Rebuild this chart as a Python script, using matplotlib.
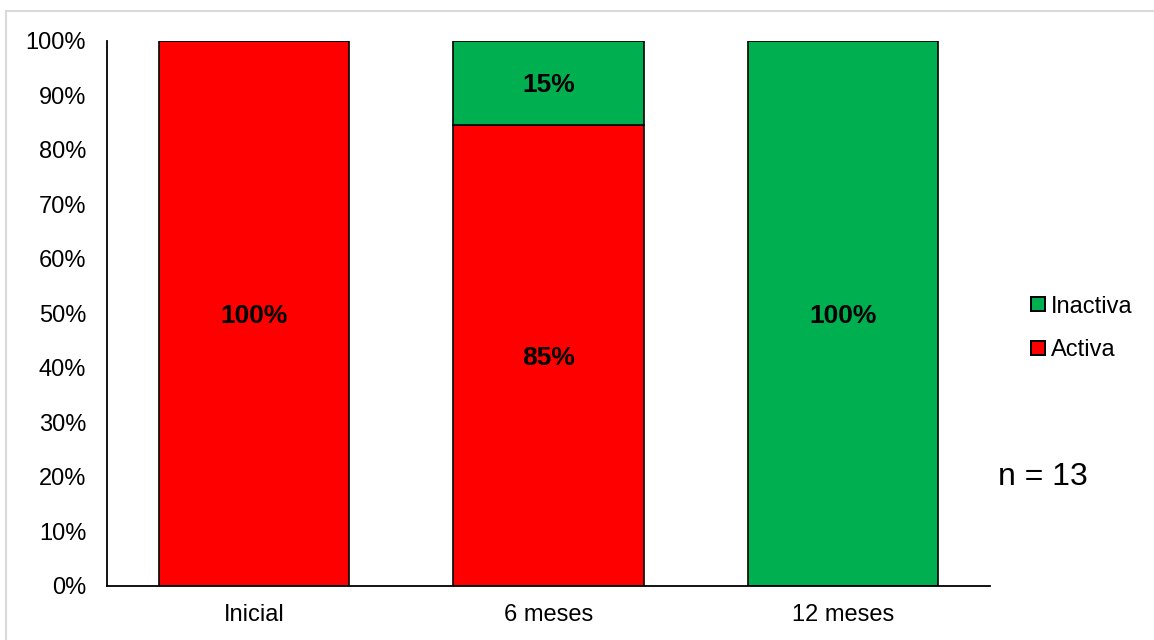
import matplotlib
matplotlib.use("Agg")
import matplotlib.pyplot as plt
from matplotlib.lines import Line2D
from matplotlib.ticker import MultipleLocator, FuncFormatter

plt.rcParams['font.family'] = ['Liberation Sans', 'DejaVu Sans']

# Patients per state at each follow-up visit (n = 13)
categories = ["Inicial", "6 meses", "12 meses"]
n_total = 13
activa = [13, 11, 0]
inactiva = [0, 2, 13]
series_names = ["Activa", "Inactiva"]

pct_activa = [v / n_total * 100 for v in activa]
pct_inactiva = [v / n_total * 100 for v in inactiva]

red = "#FF0000"
green = "#00B050"

fig = plt.figure(figsize=(11.54, 6.4), dpi=100)
ax = fig.add_axes([0.0927, 0.0844, 0.858 - 0.0927, 0.936 - 0.0844])

x = list(range(len(categories)))
bw = 0.646
ax.bar(x, pct_activa, width=bw, color=red, edgecolor="black", linewidth=1.2, zorder=2)
ax.bar(x, pct_inactiva, width=bw, bottom=pct_activa, color=green,
       edgecolor="black", linewidth=1.2, zorder=2)

for i in x:
    for base, val in ((0, pct_activa[i]), (pct_activa[i], pct_inactiva[i])):
        if val > 0:
            ax.text(i, base + val / 2, f"{val:.0f}%", ha="center", va="center_baseline",
                    fontsize=19, fontweight="bold", color="black", zorder=3)

ax.set_xlim(-0.5, 2.5)
ax.set_ylim(0, 100)
ax.yaxis.set_major_locator(MultipleLocator(10))
ax.yaxis.set_major_formatter(FuncFormatter(lambda v, p: f"{v:.0f}%"))
ax.set_xticks(x)
ax.set_xticklabels(categories)
ax.tick_params(axis="both", length=0, labelsize=17)
ax.tick_params(axis="y", pad=15)
ax.tick_params(axis="x", pad=13)

for s in ("top", "right"):
    ax.spines[s].set_visible(False)
for s in ("left", "bottom"):
    ax.spines[s].set_linewidth(1.3)
    ax.spines[s].set_color("black")

handles = [
    Line2D([], [], marker="s", linestyle="none", markersize=9.5, markerfacecolor=green,
           markeredgecolor="black", markeredgewidth=1.4, label=series_names[1]),
    Line2D([], [], marker="s", linestyle="none", markersize=9.5, markerfacecolor=red,
           markeredgecolor="black", markeredgewidth=1.4, label=series_names[0]),
]
fig.legend(handles=handles, loc="center left", bbox_to_anchor=(0.884, 0.487),
           frameon=False, fontsize=17, handletextpad=0.2, labelspacing=0.9,
           borderaxespad=0, handlelength=0.7)

fig.text(1043 / 1154, 1 - 477 / 640, f"n = {n_total}", ha="center", va="center", fontsize=23)

# light frame around the chart area
fig.add_artist(Line2D([6 / 1154, 6 / 1154], [0, 1 - 11 / 640], transform=fig.transFigure,
                      color="#D9D9D9", linewidth=1.5))
fig.add_artist(Line2D([6 / 1154, 1], [1 - 11 / 640, 1 - 11 / 640], transform=fig.transFigure,
                      color="#D9D9D9", linewidth=1.5))

fig.savefig("out.png", dpi=100, facecolor="white")
